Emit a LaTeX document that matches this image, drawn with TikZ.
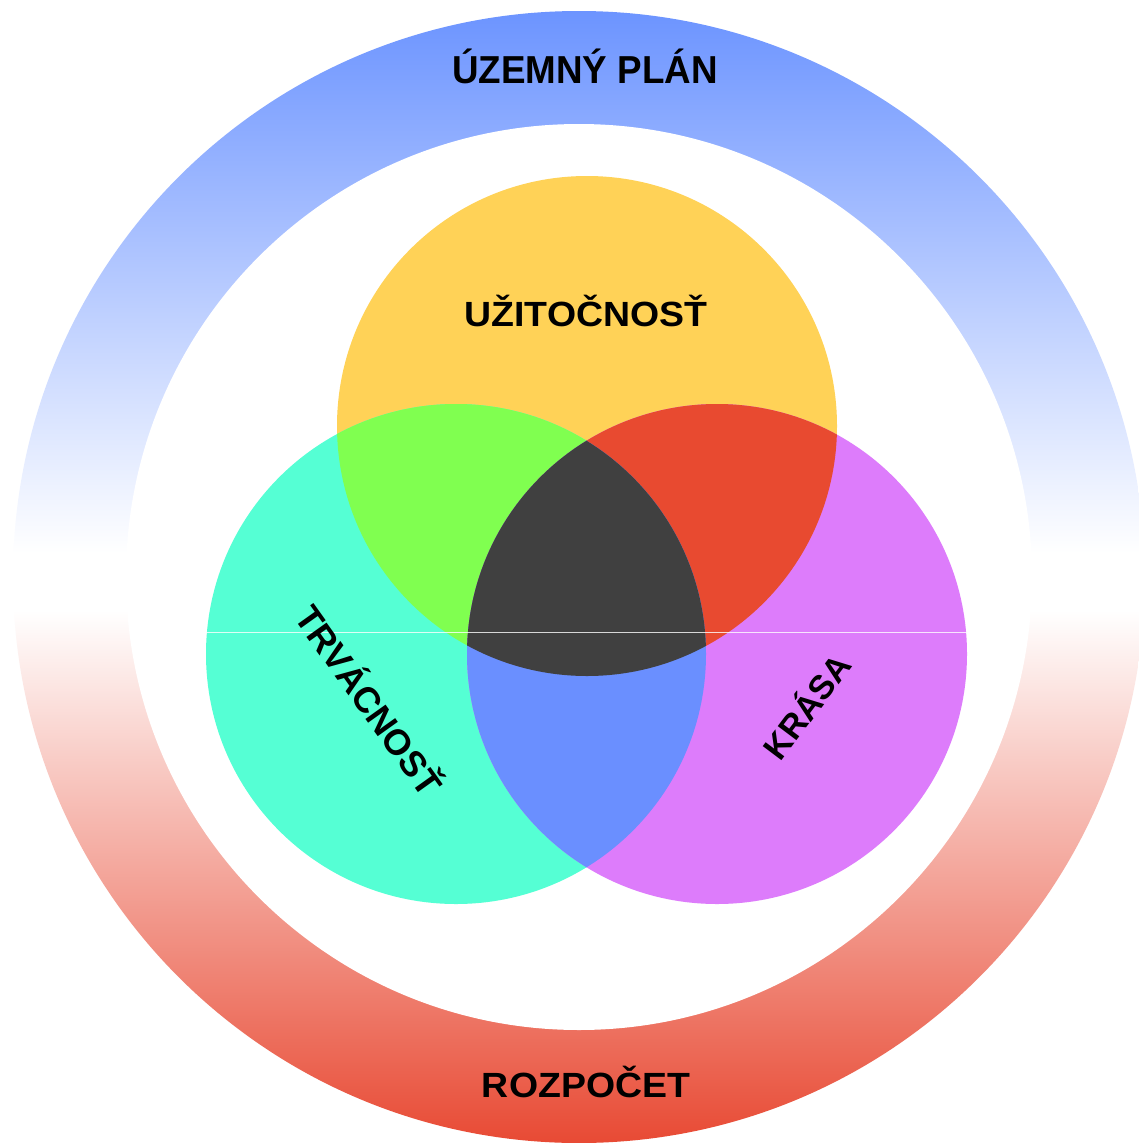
\documentclass[tikz,border=0pt]{standalone}
\usepackage{fontspec}
\setmainfont{Liberation Sans}
\definecolor{ringblue}{RGB}{108,148,255}
\definecolor{ringred}{RGB}{232,74,52}
\definecolor{cyel}{RGB}{255,210,87}
\definecolor{ccyan}{RGB}{85,255,212}
\definecolor{cpurp}{RGB}{221,124,251}
\definecolor{cgreen}{RGB}{128,255,80}
\definecolor{cred}{RGB}{232,74,48}
\definecolor{cblue}{RGB}{106,143,255}
\definecolor{cdark}{RGB}{64,64,64}
\tikzset{
  lbl/.style={text=black, inner sep=0pt, font=\bfseries},
}
\begin{document}
\begin{tikzpicture}[x=1pt,y=-1pt]
\useasboundingbox (0,0) rectangle (1139,1143);
\fill[white] (0,0) rectangle (1139,1143);
\coordinate (C) at (579,577);
\coordinate (Y) at (587,426);
\coordinate (T) at (456,654);
\coordinate (P) at (717,654);
% ring
\begin{scope}
  \clip (C) circle (566pt);
  \shade[top color=ringblue, bottom color=white] (0,11) rectangle (1139,553);
  \fill[white] (0,553) rectangle (1139,610);
  \shade[top color=white, bottom color=ringred] (0,610) rectangle (1139,1143);
\end{scope}
\fill[white] (C) circle (453pt);
% circles
\fill[cyel] (Y) circle (250pt);
\fill[ccyan] (T) circle (250pt);
\fill[cpurp] (P) circle (250pt);
\begin{scope}
  \clip (Y) circle (250pt);
  \fill[cgreen] (T) circle (250pt);
  \fill[cred] (P) circle (250pt);
\end{scope}
\begin{scope}
  \clip (T) circle (250pt);
  \fill[cblue] (P) circle (250pt);
\end{scope}
\begin{scope}
  \clip (Y) circle (250pt);
  \clip (T) circle (250pt);
  \fill[cdark] (P) circle (250pt);
\end{scope}
\coordinate (la) at (206,632);
\coordinate (lb) at (967,632);
\draw[white, line width=0.8pt, opacity=0.8] (la) -- (lb);
% labels
\node[lbl, anchor=base, xscale=0.943, font=\bfseries\fontsize{39}{39}\selectfont] (uzemny) at (585,83) {ÚZEMNÝ PLÁN};
\node[lbl, anchor=base, xscale=1.07, font=\bfseries\fontsize{35}{35}\selectfont] (uzit) at (586,326) {UŽITOČNOSŤ};
\node[lbl, anchor=base, xscale=1.07, font=\bfseries\fontsize{35}{35}\selectfont] (rozp) at (586,1097) {ROZPOČET};
\node[lbl, rotate=-54.5, font=\bfseries\fontsize{36}{36}\selectfont] (trv) at (371,699) {TRVÁCNOSŤ};
\node[lbl, rotate=53, font=\bfseries\fontsize{34}{34}\selectfont] (kras) at (805,705) {KRÁSA};
\end{tikzpicture}
\end{document}
